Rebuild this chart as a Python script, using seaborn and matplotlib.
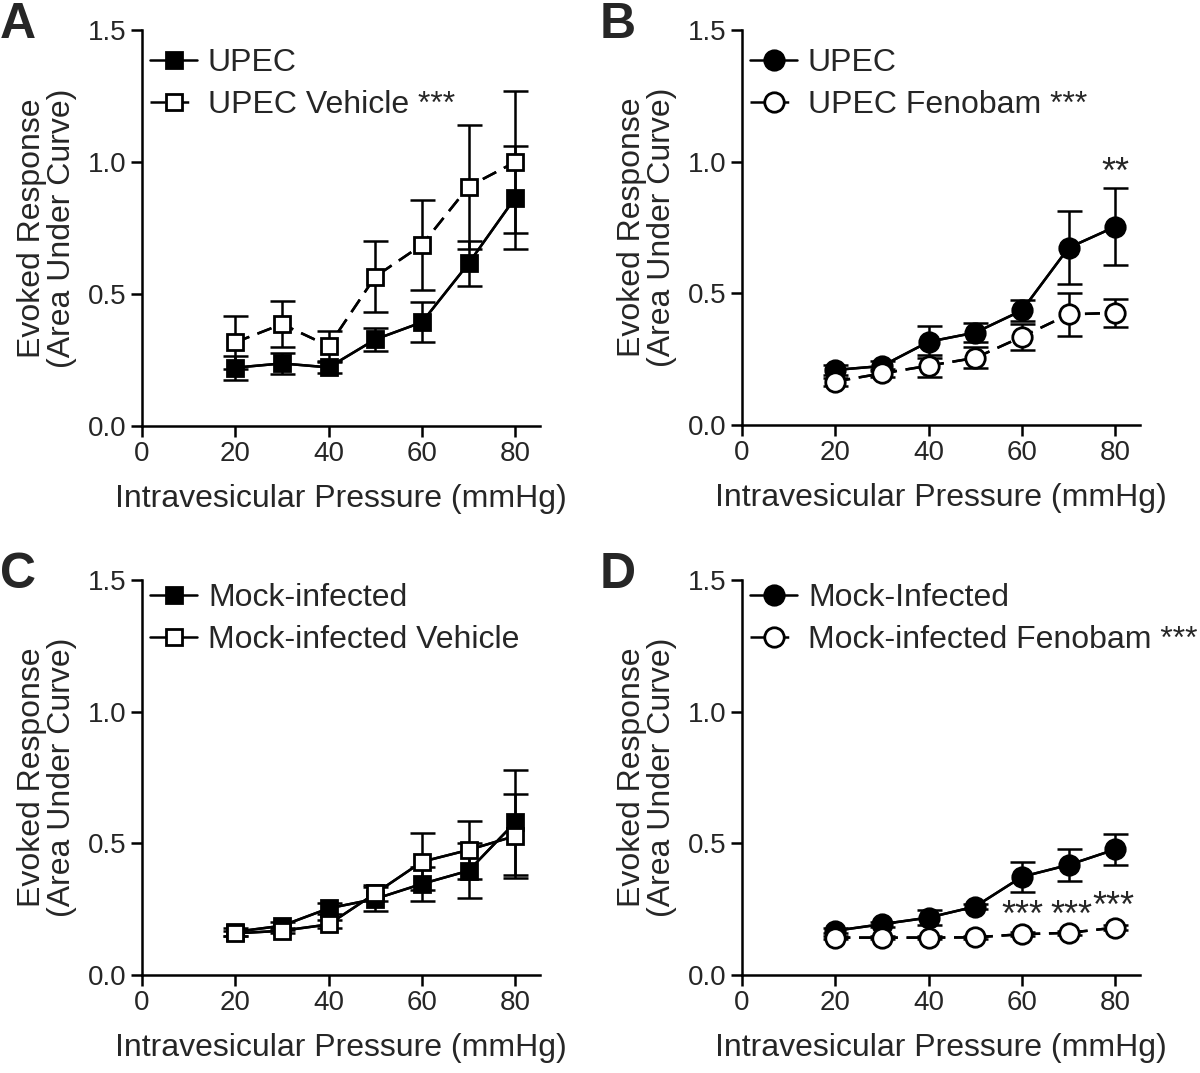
import numpy as np
import pandas as pd
import seaborn as sns
import matplotlib.pyplot as plt

sns.set_style("ticks")
plt.rcParams['font.family'] = ['Liberation Sans', 'DejaVu Sans']

pressure = [20, 30, 40, 50, 60, 70, 80]

# panel A
a_upec = [0.221, 0.237, 0.222, 0.328, 0.393, 0.616, 0.865]
a_upec_sem = [0.045, 0.040, 0.020, 0.045, 0.075, 0.085, 0.195]
a_veh = [0.317, 0.386, 0.303, 0.566, 0.686, 0.907, 1.000]
a_veh_sem = [0.100, 0.087, 0.055, 0.135, 0.170, 0.235, 0.270]

# panel B
b_upec = [0.209, 0.224, 0.316, 0.351, 0.435, 0.673, 0.753]
b_upec_sem = [0.020, 0.020, 0.060, 0.037, 0.040, 0.138, 0.147]
b_feno = [0.165, 0.196, 0.225, 0.255, 0.335, 0.420, 0.426]
b_feno_sem = [0.015, 0.015, 0.042, 0.040, 0.050, 0.083, 0.052]

# panel C
c_mock = [0.164, 0.187, 0.253, 0.289, 0.346, 0.396, 0.580]
c_mock_sem = [0.015, 0.015, 0.020, 0.045, 0.064, 0.105, 0.200]
c_veh = [0.158, 0.168, 0.192, 0.310, 0.430, 0.475, 0.528]
c_veh_sem = [0.010, 0.010, 0.015, 0.030, 0.108, 0.110, 0.160]

# panel D
d_mock = [0.168, 0.193, 0.218, 0.260, 0.373, 0.418, 0.477]
d_mock_sem = [0.010, 0.010, 0.030, 0.010, 0.057, 0.062, 0.059]
d_feno = [0.142, 0.142, 0.142, 0.143, 0.155, 0.160, 0.180]
d_feno_sem = [0.005, 0.005, 0.005, 0.005, 0.008, 0.008, 0.008]

panels = [
    ("A", [142, 30, 540, 426], 0.97,
     [("UPEC", a_upec, a_upec_sem, "s", "black", "-"),
      ("UPEC Vehicle ***", a_veh, a_veh_sem, "s", "white", "--")],
     []),
    ("B", [742, 30, 1140, 425], 0.97,
     [("UPEC", b_upec, b_upec_sem, "o", "black", "-"),
      ("UPEC Fenobam ***", b_feno, b_feno_sem, "o", "white", "--")],
     [(80, 0.955, "**")]),
    ("C", [142, 580, 540, 975], 1.008,
     [("Mock-infected", c_mock, c_mock_sem, "s", "black", "-"),
      ("Mock-infected Vehicle", c_veh, c_veh_sem, "s", "white", "-")],
     []),
    ("D", [742, 580, 1140, 975], 1.008,
     [("Mock-Infected", d_mock, d_mock_sem, "o", "black", "-"),
      ("Mock-infected Fenobam ***", d_feno, d_feno_sem, "o", "white", "--")],
     [(60, 0.222, "***"), (70.5, 0.222, "***"), (79.5, 0.255, "***")]),
]

W, H = 1200, 1073
fig = plt.figure(figsize=(W / 100, H / 100), dpi=100)
lw = 1.8

for letter, (x0, y0, x1, y1), leg_y, series, stars in panels:
    ax = fig.add_axes([x0 / W, 1 - y1 / H, (x1 - x0) / W, (y1 - y0) / H])
    for label, vals, sem, mk, face, ls in series:
        ms = 11 if mk == "s" else 14
        style = (0, (6, 3.5)) if ls == "--" else "-"
        df = pd.DataFrame({"p": pressure, "v": vals})
        sns.lineplot(data=df, x="p", y="v", ax=ax, color="black", lw=lw,
                     linestyle=style, errorbar=None, zorder=3, legend=False)
        ax.errorbar(pressure, vals, yerr=sem, fmt="none", ecolor="black",
                    elinewidth=lw, capsize=9, capthick=lw, zorder=2)
        ax.plot(pressure, vals, linestyle=style, color="black", lw=lw, marker=mk,
                markersize=ms, markerfacecolor=face, markeredgecolor="black",
                markeredgewidth=2.0, zorder=4, label=label)
    for sx, sy, st in stars:
        ax.text(sx, sy, st, ha="center", va="center", fontsize=26)
    ax.set_xlim(0, 85.3)
    ax.set_ylim(0, 1.5)
    ax.set_xticks([0, 20, 40, 60, 80])
    ax.set_yticks([0.0, 0.5, 1.0, 1.5])
    ax.set_yticklabels(["0.0", "0.5", "1.0", "1.5"])
    ax.tick_params(labelsize=20, width=lw, length=8, color="black", pad=3)
    for s in ["left", "bottom"]:
        ax.spines[s].set_linewidth(lw)
        ax.spines[s].set_color("black")
    sns.despine(ax=ax)
    ax.set_xlabel("Intravesicular Pressure (mmHg)", fontsize=23, labelpad=12)
    ax.set_ylabel("Evoked Response\n(Area Under Curve)", fontsize=23, labelpad=8,
                  linespacing=1.0)
    ax.legend(loc="upper left", frameon=False, fontsize=23, handlelength=1.45,
              handletextpad=0.35, borderaxespad=0.0, labelspacing=0.38,
              borderpad=0.2, bbox_to_anchor=(0.005, leg_y))
    fig.text(x0 / W - 142 / W, 1 - (y0 - 5) / H, letter,
             fontsize=36, fontweight="bold", va="center", ha="left")

fig.savefig("out.png", dpi=100)
